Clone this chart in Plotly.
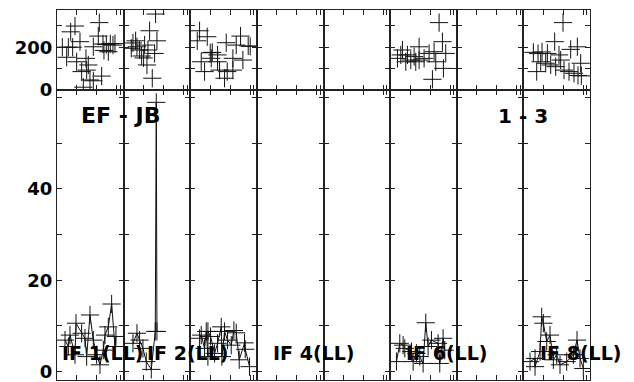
import plotly.graph_objects as go
from plotly.subplots import make_subplots

# ---------------- data (time as fraction of panel, values) ----------------
IF_NAMES = ["IF 1(LL)", "IF 2(LL)", "IF 3(LL)", "IF 4(LL)", "IF 5(LL)", "IF 6(LL)", "IF 7(LL)", "IF 8(LL)"]
IF_LABEL_SHOWN = [True, True, False, True, False, True, False, True]
BASELINE = "EF - JB"
STOKES_TEXT = "1 - 3"

# Top row: amplitude
IF1_TOP_T = [0.08, 0.145, 0.17, 0.205, 0.235, 0.27, 0.295, 0.345, 0.37, 0.395, 0.435, 0.445, 0.47, 0.495, 0.545, 0.545, 0.62, 0.635, 0.67, 0.69, 0.705, 0.74, 0.77, 0.8, 0.84, 0.87]
IF1_TOP_V = [200, 153, 200, 272, 200, 299, 132, 226, 86, 13, 148, 93, 117, 47, 202, 43, 252, 315, 65, 215, 185, 213, 179, 216, 210, 217]
IF2_TOP_T = [0.115, 0.14, 0.18, 0.2, 0.24, 0.27, 0.3, 0.315, 0.35, 0.365, 0.39, 0.43, 0.465, 0.48, 0.5]
IF2_TOP_V = [195, 220, 230, 202, 187, 159, 150, 210, 117, 187, 277, 55, 171, 355, 230]
IF3_TOP_T = [0.105, 0.14, 0.165, 0.215, 0.255, 0.3, 0.315, 0.33, 0.41, 0.41, 0.44, 0.515, 0.54, 0.555, 0.64, 0.64, 0.69, 0.755, 0.79, 0.87, 0.9]
IF3_TOP_V = [230, 277, 132, 86, 249, 174, 148, 176, 164, 132, 93, 55, 221, 86, 148, 93, 210, 252, 140, 206, 204]
IF4_TOP_T = []
IF4_TOP_V = []
IF5_TOP_T = []
IF5_TOP_V = []
IF6_TOP_T = [0.11, 0.16, 0.185, 0.235, 0.26, 0.31, 0.36, 0.385, 0.435, 0.435, 0.51, 0.585, 0.635, 0.66, 0.685, 0.735, 0.785, 0.8, 0.835]
IF6_TOP_V = [148, 164, 187, 132, 164, 140, 156, 132, 202, 140, 148, 171, 50, 179, 132, 315, 226, 101, 171]
IF7_TOP_T = []
IF7_TOP_V = []
IF8_TOP_T = [0.15, 0.2, 0.22, 0.26, 0.28, 0.335, 0.36, 0.41, 0.47, 0.485, 0.535, 0.56, 0.595, 0.61, 0.685, 0.71, 0.76, 0.81, 0.82, 0.86, 0.87]
IF8_TOP_V = [176, 86, 170, 132, 178, 125, 171, 117, 226, 109, 164, 140, 315, 93, 86, 190, 78, 202, 68, 125, 66]

# Bottom row: second quantity (0-60)
IF1_BOT_T = [0.12, 0.17, 0.195, 0.27, 0.285, 0.37, 0.42, 0.445, 0.495, 0.545, 0.595, 0.645, 0.695, 0.72, 0.77, 0.82, 0.87, 0.885]
IF1_BOT_V = [6.9, 5.5, 8.0, 3.7, 10.6, 8.4, 7.3, 3.3, 12.4, 6.9, 3.7, 1.5, 4.7, 8.0, 9.8, 14.8, 5.5, 7.7]
IF2_BOT_T = [0.14, 0.2, 0.24, 0.29, 0.34, 0.415, 0.475, 0.49, 0.5]
IF2_BOT_V = [6.2, 8.4, 6.9, 5.1, 2.2, 0.5, 8.8, 58.9, 8.8]
IF3_BOT_T = [0.14, 0.165, 0.215, 0.24, 0.265, 0.265, 0.305, 0.365, 0.41, 0.465, 0.475, 0.515, 0.56, 0.615, 0.655, 0.69, 0.735, 0.815, 0.825, 0.89]
IF3_BOT_V = [7.3, 8.0, 5.1, 8.8, 3.3, 8.8, 7.7, 4.0, 6.2, 9.8, 3.3, 8.8, 6.9, 5.8, 9.0, 8.5, 2.6, 6.3, 4.9, 1.1]
IF4_BOT_T = []
IF4_BOT_V = []
IF5_BOT_T = []
IF5_BOT_V = []
IF6_BOT_T = [0.095, 0.145, 0.195, 0.22, 0.32, 0.345, 0.395, 0.445, 0.495, 0.535, 0.57, 0.62, 0.72, 0.745, 0.795, 0.82]
IF6_BOT_V = [2.2, 6.2, 5.8, 5.1, 4.4, 2.2, 4.0, 3.3, 1.8, 10.7, 5.5, 6.9, 6.2, 1.8, 7.3, 4.7]
IF7_BOT_T = []
IF7_BOT_V = []
IF8_BOT_T = [0.1, 0.175, 0.175, 0.25, 0.275, 0.3, 0.35, 0.4, 0.45, 0.5, 0.55, 0.65, 0.75, 0.805, 0.85, 0.9]
IF8_BOT_V = [2.2, 2.9, 1.1, 4.4, 12.0, 10.6, 6.6, 8.0, 2.6, 3.7, 1.5, 2.2, 3.7, 6.9, 2.9, 0.7]

TOP_T = [IF1_TOP_T, IF2_TOP_T, IF3_TOP_T, IF4_TOP_T, IF5_TOP_T, IF6_TOP_T, IF7_TOP_T, IF8_TOP_T]
TOP_V = [IF1_TOP_V, IF2_TOP_V, IF3_TOP_V, IF4_TOP_V, IF5_TOP_V, IF6_TOP_V, IF7_TOP_V, IF8_TOP_V]
BOT_T = [IF1_BOT_T, IF2_BOT_T, IF3_BOT_T, IF4_BOT_T, IF5_BOT_T, IF6_BOT_T, IF7_BOT_T, IF8_BOT_T]
BOT_V = [IF1_BOT_V, IF2_BOT_V, IF3_BOT_V, IF4_BOT_V, IF5_BOT_V, IF6_BOT_V, IF7_BOT_V, IF8_BOT_V]

X_TICKS = [0.3, 0.6, 0.9, 0.952]
TOP_YTICKS = [0, 100, 200, 300]
TOP_YTEXT = ["0", "", "200", ""]
BOT_YTICKS = [0, 10, 20, 30, 40, 50, 60]
BOT_YTEXT = ["0", "", "20", "", "40", "", ""]

# ---------------- figure ----------------
# the page body has an 8px default margin, so the figure is made 8px smaller
# and all screen positions below are offset by it.
OFF = 8
W, H = 634 - OFF, 382 - OFF
PLOT_L, PLOT_R, PLOT_T, PLOT_B = 57, 590.5, 10, 380     # screen px
ML = PLOT_L - OFF
MT = PLOT_T - OFF
MR = W - (PLOT_R - OFF)
MB = H - (PLOT_B - OFF)
NP = 8
TOP_FRAC = 0.2162

fig = make_subplots(rows=2, cols=NP, horizontal_spacing=0, vertical_spacing=0,
                    row_heights=[TOP_FRAC, 1 - TOP_FRAC])

marker = dict(symbol="cross-thin", size=13, color="#111", line=dict(width=1, color="#111"))

for i in range(NP):
    fig.add_trace(go.Scatter(x=TOP_T[i], y=TOP_V[i], mode="markers", marker=marker,
                             hoverinfo="skip"), row=1, col=i + 1)
    fig.add_trace(go.Scatter(x=BOT_T[i], y=BOT_V[i], mode="lines+markers", marker=marker,
                             line=dict(color="#111", width=1), hoverinfo="skip"), row=2, col=i + 1)

axis_common = dict(showline=True, linecolor="#222", linewidth=1, mirror="ticks",
                   ticks="inside", ticklen=5, tickcolor="#222", tickwidth=1,
                   showgrid=False, zeroline=False, automargin=False)
tickfont = dict(family="DejaVu Sans", size=18, color="black", weight="bold")

for i in range(NP):
    for r in (1, 2):
        fig.update_xaxes(range=[0, 1], tickvals=X_TICKS, showticklabels=False,
                         row=r, col=i + 1, **axis_common)
    fig.update_yaxes(range=[0, 374], tickvals=TOP_YTICKS, ticktext=TOP_YTEXT,
                     showticklabels=(i == 0), tickfont=tickfont, row=1, col=i + 1, **axis_common)
    fig.update_yaxes(range=[-1.82, 61.6], tickvals=BOT_YTICKS, ticktext=BOT_YTEXT,
                     showticklabels=(i == 0), tickfont=tickfont, row=2, col=i + 1, **axis_common)

plot_w = PLOT_R - PLOT_L
plot_h = PLOT_B - PLOT_T
panel_w = plot_w / NP

def px_to_paper_x(px):
    return (px - PLOT_L) / plot_w

def py_to_paper_y(py):
    return (PLOT_B - py) / plot_h

# label centre offsets from each panel centre (px); IF 1 / IF 2 nudged apart so they do not collide
LABEL_DX = [12, 31, 0, 23.5, 0, 23.5, 0, 23.5]

annos = []
for i, name in enumerate(IF_NAMES):
    if not IF_LABEL_SHOWN[i]:
        continue
    cx = PLOT_L + panel_w * (i + 0.5) + LABEL_DX[i]
    annos.append(dict(x=px_to_paper_x(cx), y=py_to_paper_y(352.5), xref="paper", yref="paper",
                      text=name, showarrow=False, xanchor="center", yanchor="middle",
                      font=dict(family="DejaVu Sans", size=19, color="black", weight="bold")))
annos.append(dict(x=px_to_paper_x(120.5), y=py_to_paper_y(116), xref="paper", yref="paper",
                  text=BASELINE, showarrow=False, xanchor="center", yanchor="middle",
                  font=dict(family="DejaVu Sans", size=22, color="black", weight="bold")))
annos.append(dict(x=px_to_paper_x(523), y=py_to_paper_y(116), xref="paper", yref="paper",
                  text=STOKES_TEXT, showarrow=False, xanchor="center", yanchor="middle",
                  font=dict(family="DejaVu Sans", size=20, color="black", weight="bold")))

fig.update_layout(width=W, height=H, margin=dict(l=ML, r=MR, t=MT, b=MB, pad=0),
                  paper_bgcolor="white", plot_bgcolor="white", showlegend=False,
                  annotations=annos)

fig.write_html("out.html")
